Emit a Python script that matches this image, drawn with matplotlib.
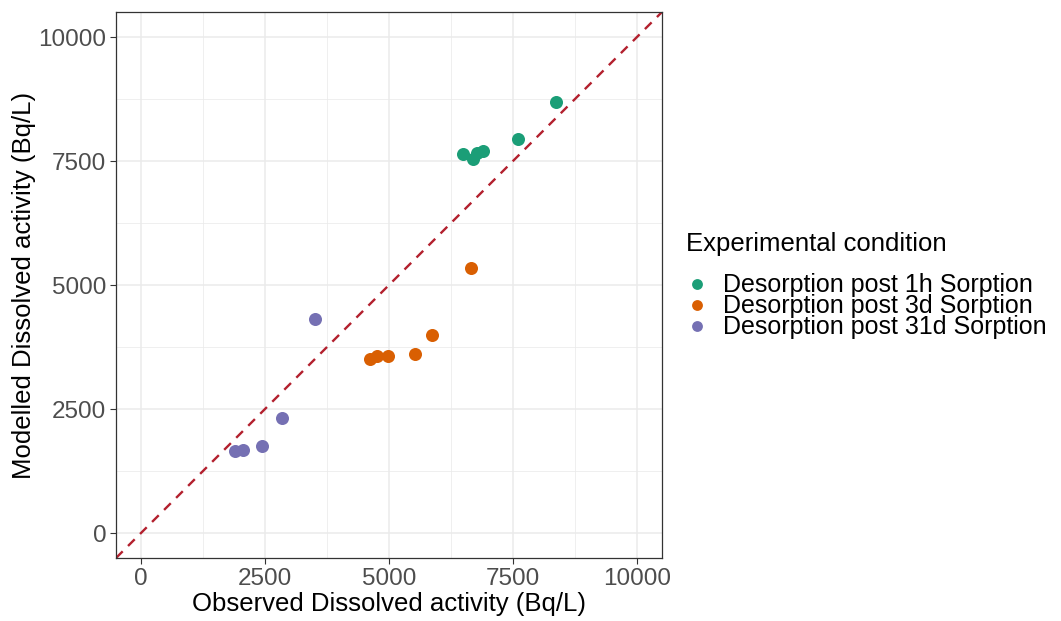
import matplotlib
matplotlib.use("Agg")
import matplotlib.pyplot as plt
from matplotlib.lines import Line2D
import numpy as np

plt.rcParams['font.family'] = ['Liberation Sans', 'DejaVu Sans']

# ---- data ----
groups = ["Desorption post 1h Sorption", "Desorption post 3d Sorption", "Desorption post 31d Sorption"]
colors = ["#1B9E77", "#D95F02", "#7570B3"]

obs_1h = [8373, 7613, 6492, 6706, 6786, 6895]
mod_1h = [8699, 7939, 7642, 7541, 7663, 7709]

obs_3d = [6653, 5867, 5530, 4992, 4758, 4623]
mod_3d = [5339, 4000, 3616, 3568, 3568, 3521]

obs_31d = [3514, 2855, 2440, 2069, 1901]
mod_31d = [4323, 2323, 1749, 1683, 1663]

xticks = [0, 2500, 5000, 7500, 10000]
yticks = [0, 2500, 5000, 7500, 10000]
minor_ticks = [-1250, 1250, 3750, 6250, 8750]

W, H = 1061, 621
fig = plt.figure(figsize=(W / 100, H / 100), dpi=100)
left, right, top, bottom = 116, 661.7, 12.3, 558
ax = fig.add_axes([left / W, 1 - bottom / H, (right - left) / W, (bottom - top) / H])

lim = (-500, 10500)
ax.set_xlim(lim)
ax.set_ylim(lim)

# grid
ax.set_axisbelow(True)
for v in minor_ticks:
    ax.axvline(v, color="#EBEBEB", lw=0.55, zorder=0)
    ax.axhline(v, color="#EBEBEB", lw=0.55, zorder=0)
for v in xticks:
    ax.axvline(v, color="#EBEBEB", lw=1.1, zorder=0)
for v in yticks:
    ax.axhline(v, color="#EBEBEB", lw=1.1, zorder=0)

# 1:1 line
ax.plot(lim, lim, color="#B3202E", lw=1.7, ls=(0, (4, 3.2)), zorder=2)

series = [(obs_1h, mod_1h), (obs_3d, mod_3d), (obs_31d, mod_31d)]
for (xo, ym), c in zip(series, colors):
    ax.scatter(xo, ym, s=88, color=c, linewidths=0, zorder=3)

ax.set_xticks(xticks)
ax.set_yticks(yticks)
ax.set_xticklabels([str(t) for t in xticks])
ax.set_yticklabels([str(t) for t in yticks])
ax.tick_params(axis="both", length=4, width=0.8, color="#333333",
               labelcolor="#4D4D4D", labelsize=17.5, pad=3)
for sp in ax.spines.values():
    sp.set_color("#333333")
    sp.set_linewidth(0.9)

ax.set_xlabel("Observed Dissolved activity (Bq/L)", fontsize=18.5, color="black", labelpad=2)
ax.set_ylabel("Modelled Dissolved activity (Bq/L)", fontsize=18.5, color="black", labelpad=2)

# legend (manual)
fig.text(686 / W, 1 - 244 / H, "Experimental condition", fontsize=18.5, va="center", ha="left")
ys = [284, 305, 326]
for yy, g, c in zip(ys, groups, colors):
    fig.add_artist(Line2D([697 / W], [1 - yy / H], marker="o", ms=7.8, color=c,
                          markeredgewidth=0, linestyle="none", transform=fig.transFigure))
    fig.text(723 / W, 1 - (yy + 1) / H, g, fontsize=18, va="center", ha="left")

fig.savefig("out.png", dpi=100)
